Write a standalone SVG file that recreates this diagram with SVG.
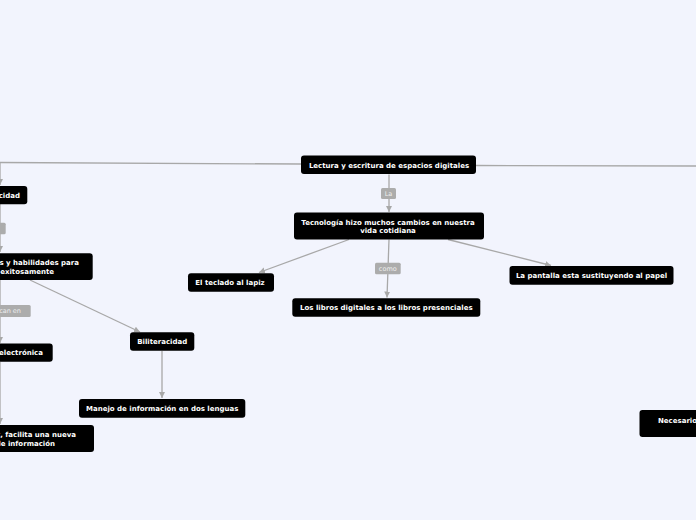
<svg xmlns="http://www.w3.org/2000/svg" width="696" height="520" viewBox="0 0 696 520">
<style>
.bg{fill:#f2f4fd}
.box{fill:#000;stroke:none}
.t{font-family:"DejaVu Sans",Verdana,sans-serif;font-weight:bold;font-size:7px;fill:#fff;text-anchor:middle}
.te{font-family:"DejaVu Sans",Verdana,sans-serif;font-weight:bold;font-size:7px;fill:#fff;text-anchor:end}
.c{fill:none;stroke:#a8a8a8;stroke-width:1.3}
.lb{fill:#acacac}
.lt{font-family:"DejaVu Sans",Verdana,sans-serif;font-size:6.5px;fill:#eeeeee;text-anchor:middle}
</style>
<defs>
<marker id="arr" markerUnits="userSpaceOnUse" markerWidth="7" markerHeight="7" refX="6" refY="3" orient="auto">
<path d="M0,0 L6,3 L0,6 z" fill="#a8a8a8"/>
</marker>
</defs>
<rect class="bg" x="0" y="0" width="696" height="520"/>
<g id="connectors">
<path class="c" d="M301,164 L-5,162.5"/>
<path class="c" d="M476,165.5 L700,166"/>
<path class="c" d="M389,174.5 L389,212" marker-end="url(#arr)"/>
<path class="c" d="M349,239.5 L259,272.5" marker-end="url(#arr)"/>
<path class="c" d="M389,239.5 L387,297.5" marker-end="url(#arr)"/>
<path class="c" d="M448,239.5 L551,265.5" marker-end="url(#arr)"/>
<path class="c" d="M0,163 L0,185" marker-end="url(#arr)"/>
<path class="c" d="M0,204 L0,252" marker-end="url(#arr)"/>
<path class="c" d="M30,280 L140,332" marker-end="url(#arr)"/>
<path class="c" d="M162,351 L162,398" marker-end="url(#arr)"/>
<path class="c" d="M0,280 L0,343" marker-end="url(#arr)"/>
<path class="c" d="M0,362 L0,424" marker-end="url(#arr)"/>
<g id="label-la"><rect class="lb" x="381" y="188" width="15" height="11" rx="1.5"/><text class="lt" x="388.5" y="196">La</text></g>
<g id="label-como"><rect class="lb" x="375" y="262.7" width="25.7" height="11.6" rx="1.5"/><text class="lt" x="387.8" y="270.8">como</text></g>
<g id="label-left1"><rect class="lb" x="-20" y="222.7" width="25.7" height="11.6" rx="1.5"/></g>
<g id="label-canen"><rect class="lb" x="-20" y="305" width="50.7" height="12" rx="1.5"/><text class="lt" x="21" y="313.2" style="text-anchor:end">can en</text></g>
</g>
<g id="n-main"><rect class="box" x="301" y="155.5" width="175" height="18.5" rx="3"/><text class="t" x="389" y="167.8">Lectura y escritura de espacios digitales</text></g>
<g id="n-tecnologia"><rect class="box" x="294" y="212.5" width="190" height="27" rx="3"/><text class="t" x="388" y="224.5">Tecnología hizo muchos cambios en nuestra</text><text class="t" x="388" y="233">vida cotidiana</text></g>
<g id="n-teclado"><rect class="box" x="188" y="273.3" width="86" height="18.4" rx="3"/><text class="t" x="230" y="285">El teclado al lapiz</text></g>
<g id="n-libros"><rect class="box" x="292.3" y="298.3" width="188" height="18.4" rx="3"/><text class="t" x="386.3" y="310">Los libros digitales a los libros presenciales</text></g>
<g id="n-pantalla"><rect class="box" x="509.5" y="266" width="164" height="18.7" rx="3"/><text class="t" x="591.5" y="277.8">La pantalla esta sustituyendo al papel</text></g>
<g id="n-cidad"><rect class="box" x="-60" y="186" width="87.3" height="18.3" rx="3"/><text class="te" x="20" y="197.5">cidad</text></g>
<g id="n-habilidades"><rect class="box" x="-120" y="253.3" width="212.7" height="26.7" rx="3"/><text class="te" x="79" y="264.8">os y habilidades para</text><text class="te" x="54" y="273.8">exitosamente</text></g>
<g id="n-biliteracidad"><rect class="box" x="130" y="332.3" width="64.3" height="18.4" rx="3"/><text class="t" x="162.2" y="344">Biliteracidad</text></g>
<g id="n-manejo"><rect class="box" x="79" y="399" width="166.3" height="18.7" rx="3"/><text class="t" x="162.2" y="411">Manejo de información en dos lenguas</text></g>
<g id="n-electronica"><rect class="box" x="-60" y="343.5" width="112.7" height="18.2" rx="3"/><text class="te" x="43" y="354.8">electrónica</text></g>
<g id="n-facilita"><rect class="box" x="-100" y="425" width="194" height="27" rx="3"/><text class="te" x="76" y="436.8">t, facilita una nueva</text><text class="te" x="55" y="445.8">de información</text></g>
<g id="n-necesario"><rect class="box" x="639.5" y="410" width="120" height="27" rx="3"/><text class="t" x="658" y="422.5" style="text-anchor:start">Necesario</text></g>
</svg>
